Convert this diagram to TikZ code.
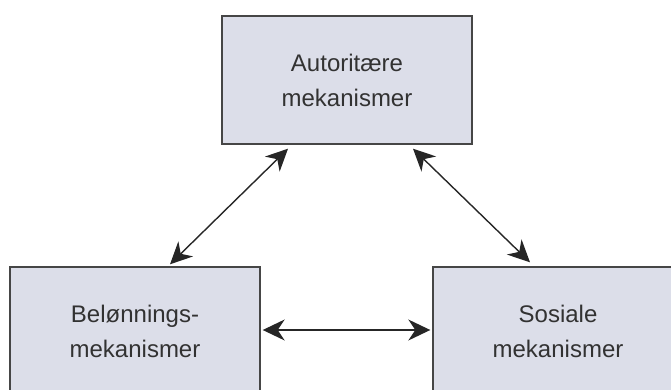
\documentclass[tikz,border=0pt]{standalone}
\usepackage{fontspec}
\setmainfont{Liberation Sans}
\usepackage{xcolor}
\usetikzlibrary{arrows.meta}
\definecolor{boxfill}{RGB}{220,222,233}
\definecolor{boxline}{RGB}{70,70,70}
\definecolor{boxtext}{RGB}{50,50,50}

\begin{document}
\begin{tikzpicture}[
        x=1pt, y=-1pt,
        mech/.style={rectangle, draw=boxline, line width=1.4pt, fill=boxfill, minimum width=250pt, minimum height=128pt, align=center, text=boxtext, font=\fontsize{24}{35}\selectfont},
        link/.style={{Stealth[length=22pt, width=21pt, inset=7pt]}-{Stealth[length=22pt, width=21pt, inset=7pt]}, line width=1.4pt, draw=black!85}
    ]
        \useasboundingbox (0,0) rectangle (671,390);
        \clip (0,0) rectangle (671,390);

        % Boxes
        \node[mech] (autoritaer) at (347, 80) {Autoritære\\mekanismer};
        \node[mech] (belonning) at (135, 331) {Belønnings-\\mekanismer};
        \node[mech] (sosiale) at (558, 331) {Sosiale\\mekanismer};

        % Arrows
        \draw[link] ([xshift=35pt, yshift=2pt]belonning.north) -- ([xshift=-59pt, yshift=-4pt]autoritaer.south);
        \draw[link] ([xshift=66pt, yshift=-4pt]autoritaer.south) -- ([xshift=-28pt, yshift=4pt]sosiale.north);
        \draw[link, shorten <=2pt, shorten >=2pt] ([yshift=1pt]belonning.east) -- ([yshift=1pt]sosiale.west);
    \end{tikzpicture}
\end{document}
